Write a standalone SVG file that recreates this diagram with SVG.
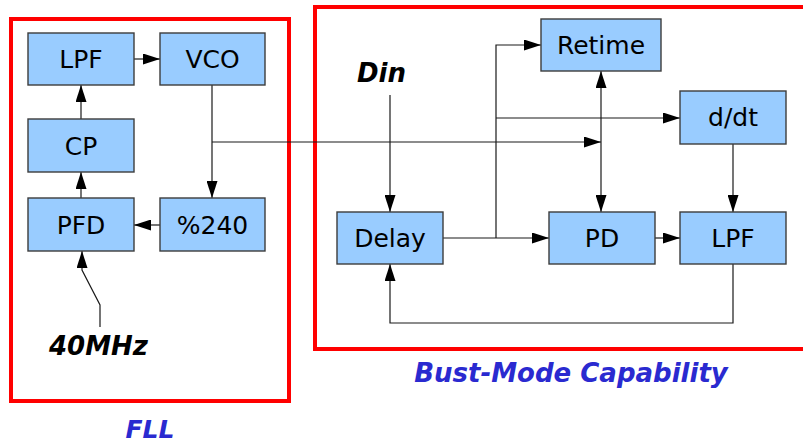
<svg xmlns="http://www.w3.org/2000/svg" width="803" height="445" viewBox="0 0 803 445">
  <style>
    .frame { fill: none; stroke: #ff0000; stroke-width: 4; }
    .box rect { fill: #99ccff; stroke: #3c3c3c; stroke-width: 1.4; }
    .box text { font-family: "DejaVu Sans", sans-serif; font-size: 25px; fill: #000; text-anchor: middle; }
    .wire { fill: none; stroke: #1a1a1a; stroke-width: 1.2; }
    .tag { font-family: "DejaVu Sans", sans-serif; font-size: 26px; font-weight: bold; font-style: italic; }
    .title { fill: #2a2ad0; text-anchor: middle; }
  </style>
  <defs>
    <marker id="arrow" markerUnits="userSpaceOnUse" markerWidth="17" markerHeight="11" refX="17" refY="5.5" orient="auto-start-reverse">
      <path d="M0,0 L17,5.5 L0,11 z" fill="#000"/>
    </marker>
  </defs>

  <rect width="803" height="445" fill="#ffffff"/>

  <!-- section frames -->
  <rect class="frame" x="11" y="19" width="278" height="382"/>
  <rect class="frame" x="315" y="7" width="495" height="342"/>

  <!-- connectors -->
  <g id="connectors">
    <path class="wire" d="M134,59 H160" marker-end="url(#arrow)"/>
    <path class="wire" d="M81,119 V85" marker-end="url(#arrow)"/>
    <path class="wire" d="M81,198 V172" marker-end="url(#arrow)"/>
    <path class="wire" d="M160,225 H134" marker-end="url(#arrow)"/>
    <path class="wire" d="M212,85 V198" marker-end="url(#arrow)"/>
    <path class="wire" d="M100,327 V305 L82,270 V251" marker-end="url(#arrow)"/>
    <path class="wire" d="M212,142 H601" marker-end="url(#arrow)"/>
    <path class="wire" d="M601,71 V212" marker-start="url(#arrow)" marker-end="url(#arrow)"/>
    <path class="wire" d="M390,95 V212" marker-end="url(#arrow)"/>
    <path class="wire" d="M443,238 H549" marker-end="url(#arrow)"/>
    <path class="wire" d="M496,238 V45 H541" marker-end="url(#arrow)"/>
    <path class="wire" d="M496,118 H680" marker-end="url(#arrow)"/>
    <path class="wire" d="M733,144 V212" marker-end="url(#arrow)"/>
    <path class="wire" d="M655,238 H680" marker-end="url(#arrow)"/>
    <path class="wire" d="M733,264 V323 H390 V264" marker-end="url(#arrow)"/>
  </g>

  <!-- FLL blocks -->
  <g id="fll-lpf" class="box"><rect x="28" y="33" width="106" height="52"/><text x="81" y="68">LPF</text></g>
  <g id="vco" class="box"><rect x="160" y="33" width="105" height="52"/><text x="212.5" y="68">VCO</text></g>
  <g id="cp" class="box"><rect x="28" y="119" width="106" height="53"/><text x="81" y="154.5">CP</text></g>
  <g id="pfd" class="box"><rect x="28" y="198" width="106" height="53"/><text x="81" y="233.5">PFD</text></g>
  <g id="div240" class="box"><rect x="160" y="198" width="105" height="53"/><text x="212.5" y="233.5">%240</text></g>

  <!-- burst-mode blocks -->
  <g id="delay" class="box"><rect x="337" y="212" width="106" height="52"/><text x="390" y="247">Delay</text></g>
  <g id="retime" class="box"><rect x="541" y="19" width="120" height="52"/><text x="601" y="53.5">Retime</text></g>
  <g id="ddt" class="box"><rect x="680" y="91" width="106" height="53"/><text x="733" y="126">d/dt</text></g>
  <g id="pd" class="box"><rect x="549" y="212" width="106" height="52"/><text x="602" y="247">PD</text></g>
  <g id="bm-lpf" class="box"><rect x="680" y="212" width="106" height="52"/><text x="733" y="247">LPF</text></g>

  <!-- signal labels -->
  <text class="tag" x="49" y="355">40MHz</text>
  <text class="tag" x="357" y="82">Din</text>

  <!-- section titles -->
  <text class="tag title" x="150" y="438" style="font-size:25px">FLL</text>
  <text class="tag title" x="571" y="382">Bust-Mode Capability</text>
</svg>
